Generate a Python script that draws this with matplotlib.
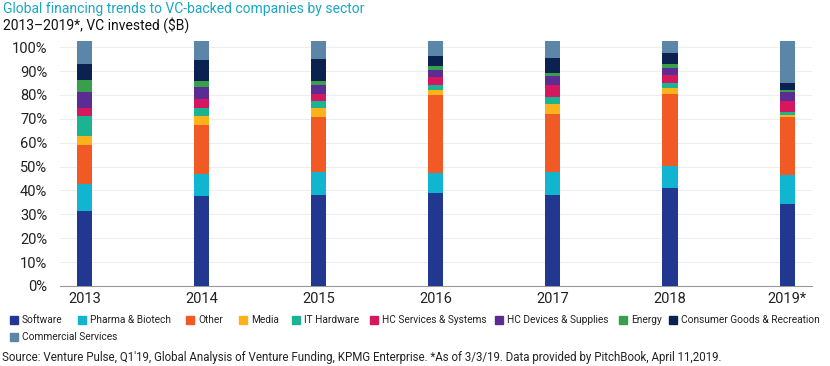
import matplotlib.pyplot as plt
import matplotlib.patches as mpatches
import numpy as np

plt.rcParams['font.family'] = ['Roboto', 'DejaVu Sans']

years = ['2013', '2014', '2015', '2016', '2017', '2018', '2019*']
sectors = ['Software', 'Pharma & Biotech', 'Other', 'Media', 'IT Hardware',
           'HC Services & Systems', 'HC Devices & Supplies', 'Energy',
           'Consumer Goods & Recreation', 'Commercial Services']

software = [31.6, 37.6, 38.0, 39.0, 37.9, 40.9, 34.4]
pharma = [11.3, 9.5, 9.6, 8.4, 10.0, 9.5, 12.0]
other = [16.3, 20.4, 23.0, 32.4, 24.2, 30.1, 24.5]
media = [3.5, 3.7, 3.9, 2.1, 4.2, 2.4, 0.7]
it_hardware = [8.5, 3.3, 2.9, 2.1, 2.8, 2.2, 1.4]
hc_services = [3.3, 3.8, 3.1, 3.6, 4.9, 3.2, 4.6]
hc_devices = [6.8, 5.1, 3.6, 2.9, 4.0, 2.8, 3.5]
energy = [4.9, 2.5, 1.8, 1.7, 1.0, 1.7, 0.9]
consumer = [6.8, 8.8, 9.2, 4.3, 6.5, 4.6, 2.8]
commercial = [9.5, 7.8, 7.4, 6.0, 7.0, 5.1, 17.7]

series = [software, pharma, other, media, it_hardware, hc_services,
          hc_devices, energy, consumer, commercial]
colors = ['#22378f', '#12b5d0', '#f15a24', '#fbb21b', '#1bb493', '#d4175f',
          '#5b2c91', '#3a9f4d', '#0b2150', '#5b86a8']

W, H = 830, 366
fig = plt.figure(figsize=(W / 100, H / 100), dpi=100)
ax = fig.add_axes([0.072, 0.2186, 0.906, 0.672])

x = np.arange(len(years))
bottom = np.zeros(len(years))
for vals, c in zip(series, colors):
    ax.bar(x, vals, bottom=bottom, width=0.13, color=c, zorder=3)
    bottom += np.array(vals)

ax.set_xlim(-0.21, 6.21)
ax.set_ylim(0, 103)
ax.set_yticks(np.arange(0, 101, 10))
ax.set_yticklabels([f'{v}%' for v in range(0, 101, 10)])
ax.set_xticks(x)
ax.set_xticklabels(years)
ax.tick_params(axis='both', length=0, labelsize=10.5, colors='#222222')
ax.tick_params(axis='y', pad=9)
ax.tick_params(axis='x', pad=4)
ax.grid(axis='y', color='#eeeeee', linewidth=0.8, zorder=0)
for s in ['top', 'right', 'left']:
    ax.spines[s].set_visible(False)
ax.spines['bottom'].set_color('#999999')

fig.text(0.004, 1 - 2 / H, 'Global financing trends to VC-backed companies by sector',
         color='#1aa7c2', fontsize=10, va='top')
fig.text(0.004, 1 - 17 / H, '2013\u20132019*, VC invested ($B)',
         color='#111111', fontsize=10, va='top')

# legend laid out by hand, rows like the original
legend_x = [10, 78, 186, 239, 292, 370, 495, 619, 669, 10]
legend_y = [320, 320, 320, 320, 320, 320, 320, 320, 320, 337]
for s, c, lx, ly in zip(sectors, colors, legend_x, legend_y):
    fig.patches.append(mpatches.Rectangle((lx / W, 1 - (ly + 4) / H), 8 / W, 8 / H,
                                          transform=fig.transFigure, color=c))
    fig.text((lx + 12) / W, 1 - ly / H, s, fontsize=7.3, color='#222222', va='center')

fig.text(0.002, 1 - 357 / H, 'Source: Venture Pulse, Q1\'19, Global Analysis of Venture Funding, '
         'KPMG Enterprise. *As of 3/3/19. Data provided by PitchBook, April 11,2019.',
         fontsize=8.3, color='#222222', va='center')

fig.savefig('out.png', dpi=100)
